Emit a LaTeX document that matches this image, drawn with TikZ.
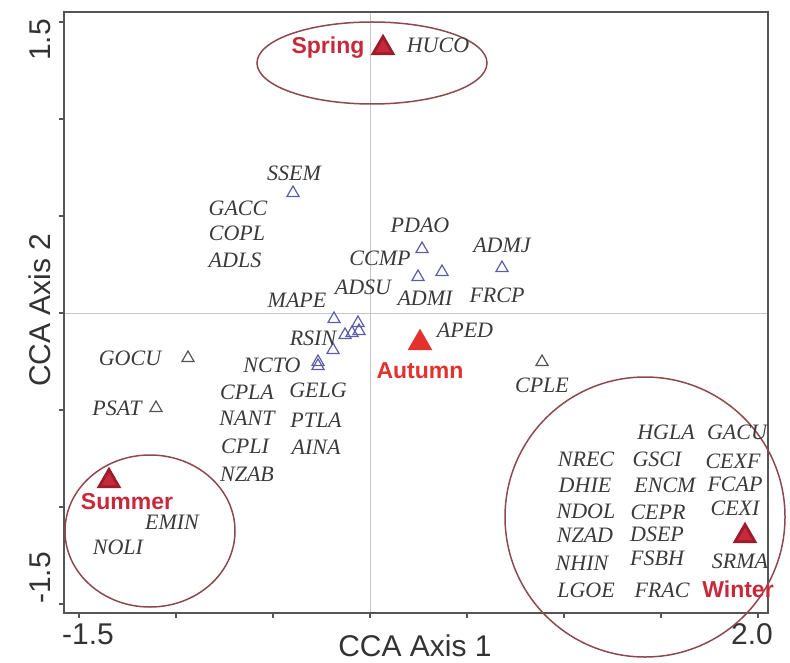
\documentclass[tikz,border=0pt]{standalone}
\usepackage{fontspec}
\setmainfont{Liberation Serif}
\setsansfont{Liberation Sans}
\usetikzlibrary{shapes.geometric}
\definecolor{spgray}{HTML}{3A3A3A}
\definecolor{triblue}{HTML}{5B5EA6}
\definecolor{trigray}{HTML}{555555}
\definecolor{seasonred}{HTML}{C62A3A}
\definecolor{seasondark}{HTML}{9E1B2A}
\definecolor{autumnred}{HTML}{E3312D}
\definecolor{ringred}{HTML}{8C4A50}
\definecolor{axisgray}{HTML}{333333}

\begin{document}
\begin{tikzpicture}[x=0.5pt,y=-0.5pt,
  sp/.style={font=\fontsize{11}{11}\selectfont\itshape,text=spgray,inner sep=0pt},
  season/.style={font=\sffamily\bfseries\fontsize{11.5}{11.5}\selectfont,text=seasonred,inner sep=0pt},
  axislabel/.style={font=\sffamily\fontsize{15}{15}\selectfont,text=axisgray,inner sep=0pt},
  opentri/.style={regular polygon,regular polygon sides=3,draw=triblue,line width=0.6pt,minimum size=7pt,inner sep=0pt},
  graytri/.style={opentri,draw=trigray},
  redtri/.style={regular polygon,regular polygon sides=3,fill=seasonred,draw=seasondark,line width=1.4pt,minimum size=11.5pt,inner sep=0pt},
  ring/.style={draw=ringred,line width=0.75pt}]
  \useasboundingbox (0,0) rectangle (790,662);
  \draw[gray!45,line width=0.4pt] (370,12) -- (370,613) (64,313) -- (768,313);
  \draw[trigray,line width=1pt] (64,12) rectangle (768,613);
  \draw[trigray,line width=0.6pt] (64,22) -- (59,22) (64,119) -- (59,119) (64,216) -- (59,216)
    (64,313) -- (59,313) (64,410) -- (59,410) (64,507) -- (59,507) (64,604) -- (59,604);
  \draw[trigray,line width=0.6pt] (79,613) -- (79,618) (176,613) -- (176,618) (273,613) -- (273,618)
    (370,613) -- (370,618) (467,613) -- (467,618) (564,613) -- (564,618) (661,613) -- (661,618)
    (758,613) -- (758,618);
  \node[axislabel] (xlab) at (415,646) {CCA Axis 1};
  \node[axislabel,rotate=90] (ylab) at (40,310) {CCA Axis 2};
  \node[axislabel,rotate=90] (ytop) at (40,40) {1.5};
  \node[axislabel,rotate=90] (ybot) at (40,578) {-1.5};
  \node[axislabel] (xleft) at (88,634) {-1.5};
  \node[axislabel] (xright) at (752,634) {2.0};
  \draw[ring] (372,63) ellipse [x radius=115,y radius=41];
  \draw[ring] (150,531) ellipse [x radius=85,y radius=76];
  \draw[ring] (645,517) ellipse [x radius=140,y radius=140];
  \node[redtri] (tSpring) at (383,48) {};
  \node[redtri,fill=autumnred,draw=autumnred] (tAutumn) at (420,343) {};
  \node[redtri] (tSummer) at (109,481) {};
  \node[redtri] (tWinter) at (745,536) {};
  \node[season] (Spring) at (328,48) {Spring};
  \node[season,text=autumnred] (Autumn) at (420,371) {Autumn};
  \node[season] (Summer) at (127,502) {Summer};
  \node[season] (Winter) at (738,589) {Winter};
  \node[opentri] (tSSEM) at (293,193) {};
  \node[opentri] (tCCMP) at (422,249) {};
  \node[opentri] (tADSU) at (418,277) {};
  \node[opentri] (tADMI) at (442,272) {};
  \node[opentri] (tADMJ) at (502,268) {};
  \node[opentri] (tMAPE) at (334,319) {};
  \node[opentri] (tc1) at (358,323) {};
  \node[opentri] (tc2) at (359,331) {};
  \node[opentri] (tc3) at (352,333) {};
  \node[opentri] (tRSIN) at (345,335) {};
  \node[opentri] (tc4) at (333,350) {};
  \node[opentri] (tNCTO) at (318,362) {};
  \node[opentri] (tc5) at (318,366) {};
  \node[graytri] (tGOCU) at (188,358) {};
  \node[graytri] (tPSAT) at (156,408) {};
  \node[graytri] (tCPLE) at (542,362) {};
  \node[sp] (HUCO) at (438,45) {HUCO};
  \node[sp] (SSEM) at (294,173) {SSEM};
  \node[sp] (GACC) at (238,208) {GACC};
  \node[sp] (COPL) at (237,233) {COPL};
  \node[sp] (ADLS) at (235,260) {ADLS};
  \node[sp] (PDAO) at (420,225) {PDAO};
  \node[sp] (CCMP) at (380,258) {CCMP};
  \node[sp] (ADMJ) at (502,245) {ADMJ};
  \node[sp] (ADSU) at (363,287) {ADSU};
  \node[sp] (ADMI) at (425,298) {ADMI};
  \node[sp] (FRCP) at (497,295) {FRCP};
  \node[sp] (MAPE) at (297,300) {MAPE};
  \node[sp] (RSIN) at (313,338) {RSIN};
  \node[sp] (APED) at (465,330) {APED};
  \node[sp] (NCTO) at (272,365) {NCTO};
  \node[sp] (GOCU) at (130,358) {GOCU};
  \node[sp] (PSAT) at (117,408) {PSAT};
  \node[sp] (CPLA) at (247,392) {CPLA};
  \node[sp] (GELG) at (318,390) {GELG};
  \node[sp] (NANT) at (247,418) {NANT};
  \node[sp] (PTLA) at (316,420) {PTLA};
  \node[sp] (CPLI) at (245,446) {CPLI};
  \node[sp] (AINA) at (316,447) {AINA};
  \node[sp] (NZAB) at (247,474) {NZAB};
  \node[sp] (CPLE) at (542,385) {CPLE};
  \node[sp] (EMIN) at (172,522) {EMIN};
  \node[sp] (NOLI) at (118,547) {NOLI};
  \node[sp] (HGLA) at (666,432) {HGLA};
  \node[sp] (GACU) at (737,432) {GACU};
  \node[sp] (NREC) at (586,459) {NREC};
  \node[sp] (GSCI) at (657,459) {GSCI};
  \node[sp] (CEXF) at (733,461) {CEXF};
  \node[sp] (DHIE) at (585,485) {DHIE};
  \node[sp] (ENCM) at (665,485) {ENCM};
  \node[sp] (FCAP) at (735,484) {FCAP};
  \node[sp] (NDOL) at (586,511) {NDOL};
  \node[sp] (CEPR) at (658,512) {CEPR};
  \node[sp] (CEXI) at (735,508) {CEXI};
  \node[sp] (NZAD) at (585,535) {NZAD};
  \node[sp] (DSEP) at (657,534) {DSEP};
  \node[sp] (NHIN) at (582,563) {NHIN};
  \node[sp] (FSBH) at (657,558) {FSBH};
  \node[sp] (SRMA) at (740,561) {SRMA};
  \node[sp] (LGOE) at (586,590) {LGOE};
  \node[sp] (FRAC) at (662,590) {FRAC};
\end{tikzpicture}
\end{document}
